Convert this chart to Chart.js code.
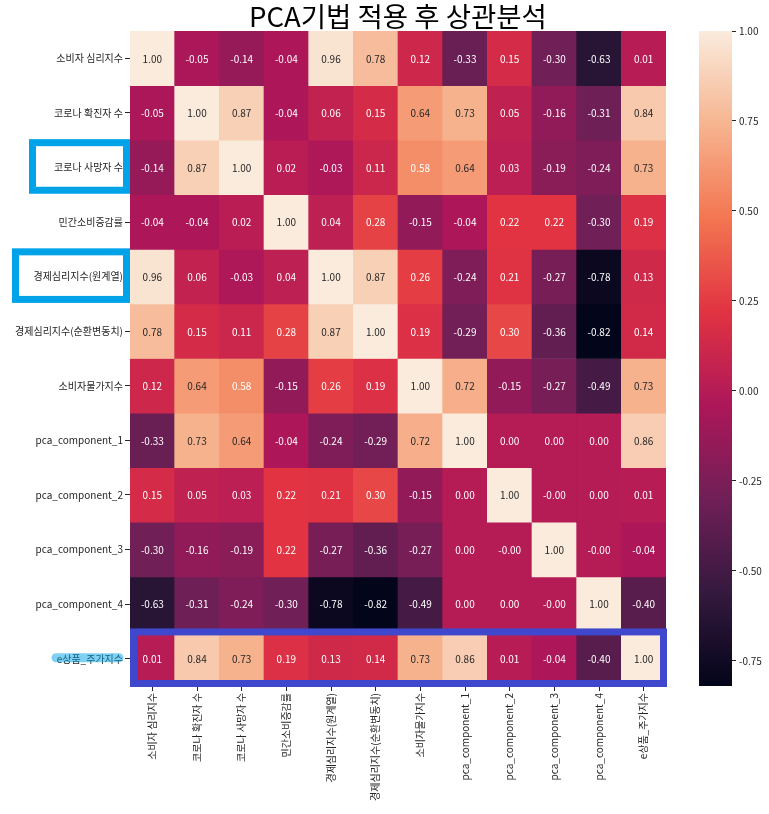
<!DOCTYPE html>
<html>
<head>
<meta charset="utf-8">
<script src="https://cdn.jsdelivr.net/npm/chart.js@4"></script>
<style>
  body { margin: 0; background: #fff; }
  #wrap { position: relative; width: 769px; height: 814px; overflow: hidden; }
  #title {
    position: absolute; left: 398px; top: 2px; transform: translateX(-50%);
    font-family: 'Noto Sans CJK KR', 'Noto Sans', sans-serif; font-size: 27.5px;
    line-height: 1; color: #000; white-space: nowrap;
  }
  #main { position: absolute; left: 0; top: 0; }
  #cbar { position: absolute; left: 690px; top: 0; }
</style>
</head>
<body>
<div id="wrap">
  <canvas id="main" width="769" height="814"></canvas>
  <canvas id="cbar" width="79" height="814"></canvas>
  <div id="title">PCA기법 적용 후 상관분석</div>
</div>
<script>
const FONT = "'Noto Sans CJK KR', 'Noto Sans', sans-serif";

const labels = [
    '소비자 심리지수', '코로나 확진자 수', '코로나 사망자 수', '민간소비증감률',
    '경제심리지수(원계열)', '경제심리지수(순환변동치)', '소비자물가지수',
    'pca_component_1', 'pca_component_2', 'pca_component_3', 'pca_component_4', 'e상품_주가지수'
];

// correlation matrix, one row per label (-0 keeps the "-0.00" cells)
const row0  = [1.00, -0.05, -0.14, -0.04, 0.96, 0.78, 0.12, -0.33, 0.15, -0.30, -0.63, 0.01];
const row1  = [-0.05, 1.00, 0.87, -0.04, 0.06, 0.15, 0.64, 0.73, 0.05, -0.16, -0.31, 0.84];
const row2  = [-0.14, 0.87, 1.00, 0.02, -0.03, 0.11, 0.58, 0.64, 0.03, -0.19, -0.24, 0.73];
const row3  = [-0.04, -0.04, 0.02, 1.00, 0.04, 0.28, -0.15, -0.04, 0.22, 0.22, -0.30, 0.19];
const row4  = [0.96, 0.06, -0.03, 0.04, 1.00, 0.87, 0.26, -0.24, 0.21, -0.27, -0.78, 0.13];
const row5  = [0.78, 0.15, 0.11, 0.28, 0.87, 1.00, 0.19, -0.29, 0.30, -0.36, -0.82, 0.14];
const row6  = [0.12, 0.64, 0.58, -0.15, 0.26, 0.19, 1.00, 0.72, -0.15, -0.27, -0.49, 0.73];
const row7  = [-0.33, 0.73, 0.64, -0.04, -0.24, -0.29, 0.72, 1.00, 0.00, 0.00, 0.00, 0.86];
const row8  = [0.15, 0.05, 0.03, 0.22, 0.21, 0.30, -0.15, 0.00, 1.00, -0.0, 0.00, 0.01];
const row9  = [-0.30, -0.16, -0.19, 0.22, -0.27, -0.36, -0.27, 0.00, -0.0, 1.00, -0.0, -0.04];
const row10 = [-0.63, -0.31, -0.24, -0.30, -0.78, -0.82, -0.49, 0.00, 0.00, -0.0, 1.00, -0.40];
const row11 = [0.01, 0.84, 0.73, 0.19, 0.13, 0.14, 0.73, 0.86, 0.01, -0.04, -0.40, 1.00];
const matrix = [row0, row1, row2, row3, row4, row5, row6, row7, row8, row9, row10, row11];

const colorbarTicks = [1.00, 0.75, 0.50, 0.25, 0.00, -0.25, -0.50, -0.75];

// rocket colormap stops
const rocket = [
    [0.000, [3, 5, 26]],
    [1 / 7, [53, 25, 62]],
    [2 / 7, [112, 31, 87]],
    [3 / 7, [173, 23, 89]],
    [4 / 7, [225, 51, 66]],
    [5 / 7, [243, 118, 81]],
    [6 / 7, [246, 180, 143]],
    [1.000, [250, 235, 221]]
];

const vmin = Math.min(...matrix.flat());
const vmax = Math.max(...matrix.flat());

function cmap(t) {
    t = Math.max(0, Math.min(1, t));
    for (let i = 1; i < rocket.length; i++) {
        if (t <= rocket[i][0]) {
            const [t0, c0] = rocket[i - 1];
            const [t1, c1] = rocket[i];
            const f = (t - t0) / (t1 - t0);
            return c0.map((c, k) => Math.round(c + (c1[k] - c) * f));
        }
    }
    return rocket[rocket.length - 1][1];
}

function colorFor(v) {
    const c = cmap((v - vmin) / (vmax - vmin));
    return `rgb(${c[0]},${c[1]},${c[2]})`;
}

function textColorFor(v) {
    const c = cmap((v - vmin) / (vmax - vmin)).map(x => {
        x = x / 255;
        return x <= 0.03928 ? x / 12.92 : Math.pow((x + 0.055) / 1.055, 2.4);
    });
    const lum = 0.2126 * c[0] + 0.7152 * c[1] + 0.0722 * c[2];
    return lum > 0.408 ? '#262626' : '#ffffff';
}

function fmt(v) {
    if (v < 0 || Object.is(v, -0)) return '-' + Math.abs(v).toFixed(2);
    return v.toFixed(2);
}

const datasets = matrix.map((row, r) => ({
    data: row.map(() => [r, r + 1]),
    values: row,
    backgroundColor: row.map(colorFor),
    borderWidth: 0,
    grouped: false,
    barPercentage: 1,
    categoryPercentage: 1
}));

const cellText = {
    id: 'cellText',
    afterDatasetsDraw(chart) {
        const ctx = chart.ctx;
        ctx.save();
        ctx.font = '10px ' + FONT;
        ctx.textAlign = 'center';
        ctx.textBaseline = 'middle';
        chart.data.datasets.forEach((ds, i) => {
            chart.getDatasetMeta(i).data.forEach((el, j) => {
                const p = el.getCenterPoint();
                ctx.fillStyle = textColorFor(ds.values[j]);
                ctx.fillText(fmt(ds.values[j]), p.x, p.y + 0.5);
            });
        });
        ctx.restore();
    }
};

// hand-drawn highlight boxes from the original picture
const labelBoxes = [{ row: 2, left: 29 }, { row: 4, left: 12 }];
const rowBox = 11;

const marks = {
    id: 'marks',
    afterDraw(chart) {
        const ctx = chart.ctx;
        const y = chart.scales.y;
        const area = chart.chartArea;
        ctx.save();
        ctx.lineWidth = 7;
        ctx.strokeStyle = '#00a2e8';
        labelBoxes.forEach(b => {
            const top = y.getPixelForValue(b.row) - 1;
            const bottom = y.getPixelForValue(b.row + 1) - 1;
            ctx.strokeRect(b.left + 3.5, top + 3.5, area.left - b.left - 7, bottom - top - 7);
        });
        ctx.strokeStyle = '#3f48cc';
        const t = y.getPixelForValue(rowBox) - 3;
        const btm = y.getPixelForValue(rowBox + 1) + 1;
        ctx.strokeRect(area.left + 3.5, t + 3.5, area.right + 1 - area.left - 7, btm - t - 7);

        // highlighter stroke on the last row label
        const cy = (y.getPixelForValue(rowBox) + y.getPixelForValue(rowBox + 1)) / 2 - 1;
        ctx.lineCap = 'round';
        ctx.lineWidth = 9;
        ctx.strokeStyle = 'rgba(0,162,232,0.5)';
        ctx.beginPath();
        ctx.moveTo(56, cy);
        ctx.lineTo(119, cy);
        ctx.stroke();
        ctx.restore();
    }
};

new Chart(document.getElementById('main'), {
    type: 'bar',
    data: { labels: labels, datasets: datasets },
    plugins: [cellText, marks],
    options: {
        responsive: false,
        animation: false,
        devicePixelRatio: 1,
        layout: { padding: { top: 31, right: 103, left: 0, bottom: 0 } },
        plugins: { legend: { display: false }, tooltip: { enabled: false } },
        scales: {
            x: {
                type: 'category',
                offset: true,
                afterFit(scale) { scale.height = 128; },
                grid: { offset: false, drawOnChartArea: false, tickLength: 5, color: '#262626' },
                border: { display: false },
                ticks: {
                    minRotation: 90, maxRotation: 90, autoSkip: false, padding: 2,
                    color: '#262626', font: { family: FONT, size: 10 }
                }
            },
            y: {
                type: 'linear',
                min: 0,
                max: labels.length,
                reverse: true,
                afterBuildTicks(scale) {
                    scale.ticks = labels.map((_, i) => ({ value: i + 0.5 }));
                },
                afterFit(scale) { scale.width = 130; },
                grid: { drawOnChartArea: false, tickLength: 5, color: '#262626' },
                border: { display: false },
                ticks: {
                    autoSkip: false, padding: 2, color: '#262626',
                    font: { family: FONT, size: 10 },
                    callback: (v, i) => labels[i]
                }
            }
        }
    }
});

function gradientFill(context) {
    const chart = context.chart;
    const area = chart.chartArea;
    if (!area) return null;
    const g = chart.ctx.createLinearGradient(0, area.bottom, 0, area.top);
    rocket.forEach(([t, c]) => g.addColorStop(t, `rgb(${c[0]},${c[1]},${c[2]})`));
    return g;
}

new Chart(document.getElementById('cbar'), {
    type: 'bar',
    data: {
        labels: ['cbar'],
        datasets: [{
            data: [[vmin, vmax]],
            backgroundColor: gradientFill,
            borderWidth: 0,
            barPercentage: 1,
            categoryPercentage: 1
        }]
    },
    options: {
        responsive: false,
        animation: false,
        devicePixelRatio: 1,
        layout: { padding: { top: 31, bottom: 128, left: 9, right: 0 } },
        plugins: { legend: { display: false }, tooltip: { enabled: false } },
        scales: {
            x: { display: false, offset: true },
            y: {
                position: 'right',
                min: vmin,
                max: vmax,
                afterBuildTicks(scale) {
                    scale.ticks = colorbarTicks.map(v => ({ value: v }));
                },
                afterFit(scale) { scale.width = 37; },
                grid: { drawOnChartArea: false, tickLength: 4, color: '#262626' },
                border: { display: false },
                ticks: {
                    padding: 3, color: '#262626',
                    font: { family: FONT, size: 10 },
                    callback: v => v.toFixed(2)
                }
            }
        }
    }
});
</script>
</body>
</html>
